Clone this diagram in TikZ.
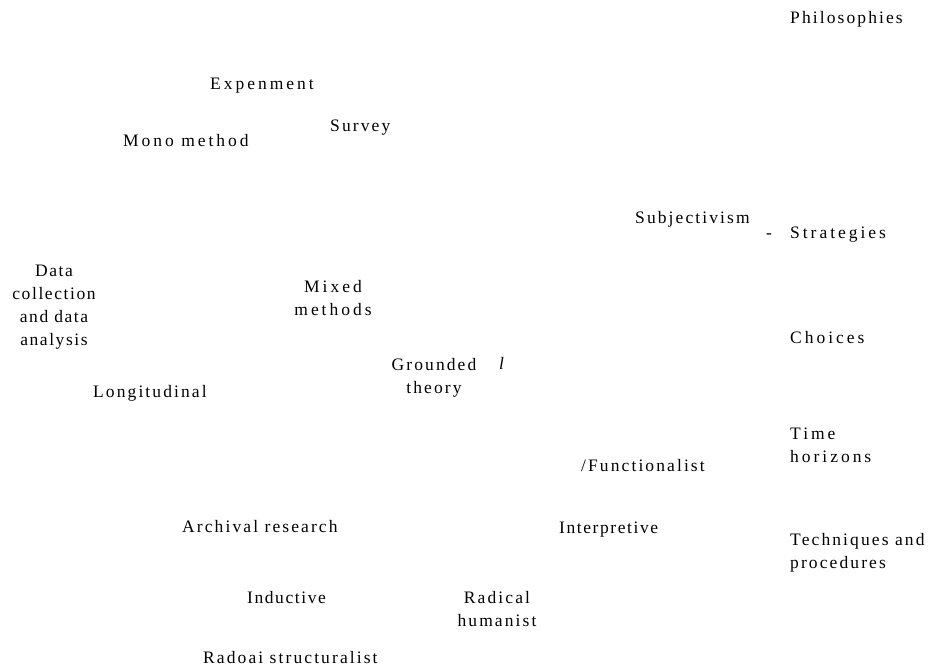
\documentclass[tikz,border=0pt]{standalone}
\usepackage{fontspec}
\setmainfont{Liberation Serif}
\tikzset{
  lbl/.style={inner sep=0pt,font=\fontsize{17.5}{23}\selectfont\addfontfeature{LetterSpace=12}},
  tightlbl/.style={lbl,font=\fontsize{17.5}{23}\selectfont\addfontfeature{LetterSpace=9}},
  widelbl/.style={lbl,font=\fontsize{17.5}{23}\selectfont\addfontfeature{LetterSpace=17}}
}
\begin{document}
\begin{tikzpicture}[x=1pt,y=-1pt]
\useasboundingbox (0,0) rectangle (933,668);
% right column (multi-line nodes sit on their last baseline)
\node[lbl,anchor=base west] (philo) at (790,24) {Philosophies};
\node[widelbl,anchor=base west] (strat) at (790,238) {Strategies};
\node[widelbl,anchor=base west] (choice) at (790,343) {Choices};
\node[widelbl,anchor=base west,align=left] (time) at (790,462) {Time\\horizons};
\node[lbl,anchor=base west,align=left] (techn) at (790,568) {Techniques and\\procedures};
\node[lbl,anchor=base] (dash) at (769,238) {-};
% scattered items
\node[widelbl,anchor=base west] (exper) at (210,90) {Expenment};
\node[lbl,anchor=base west] (survey) at (330,132) {Survey};
\node[widelbl,anchor=base west] (mono) at (123,147) {Mono method};
\node[lbl,anchor=base west] (subj) at (635,223) {Subjectivism};
\node[tightlbl,anchor=base,align=center] (data) at (54,345) {Data\\collection\\and data\\analysis};
\node[widelbl,anchor=base,align=center] (mixed) at (333,315) {Mixed\\methods};
\node[lbl,anchor=base,align=center] (ground) at (434,393) {Grounded\\theory};
\node[lbl,anchor=base west,font=\fontsize{17.5}{23}\selectfont\itshape] (ell) at (499,369) {l};
\node[lbl,anchor=base west] (longi) at (93,397) {Longitudinal};
\node[lbl,anchor=base west] (funct) at (581,471) {/Functionalist};
\node[tightlbl,anchor=base west] (interp) at (559,533) {Interpretive};
\node[lbl,anchor=base west] (arch) at (182,532) {Archival research};
\node[tightlbl,anchor=base west] (induct) at (247,603) {Inductive};
\node[lbl,anchor=base,align=center] (radhum) at (497,626) {Radical\\humanist};
\node[lbl,anchor=base west] (radstr) at (203,663) {Radoai structuralist};
\end{tikzpicture}
\end{document}
